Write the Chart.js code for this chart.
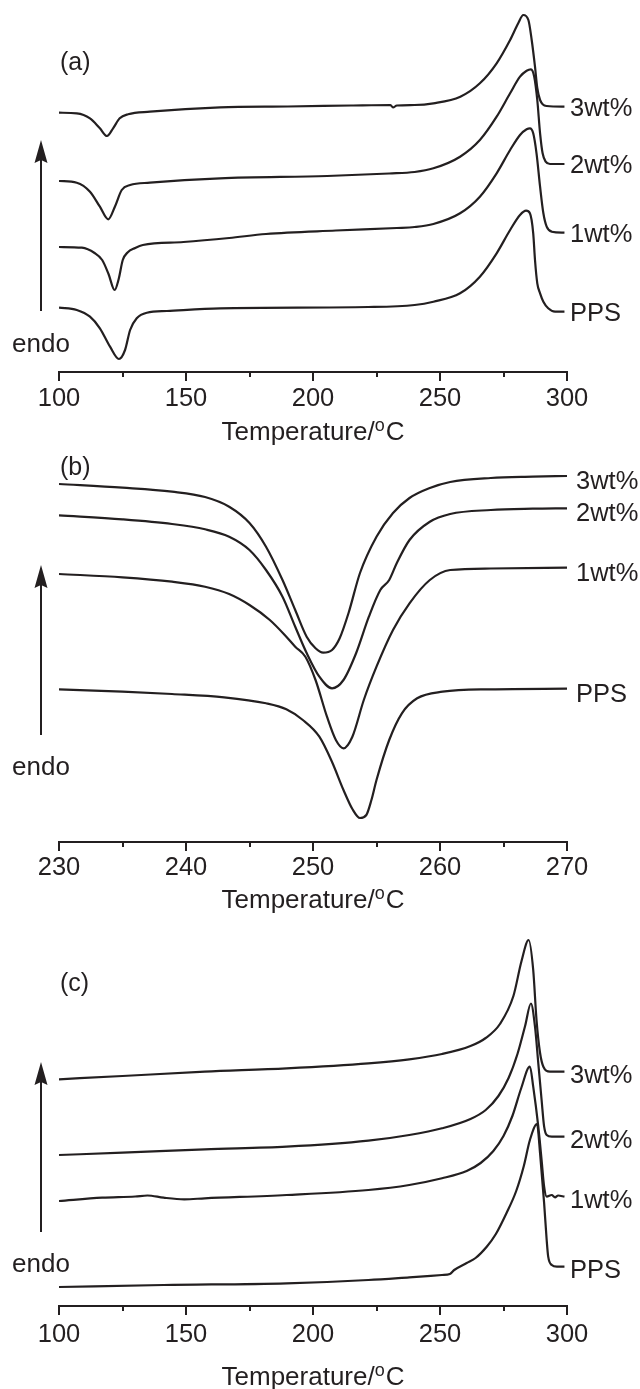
<!DOCTYPE html>
<html>
<head>
<meta charset="utf-8">
<script src="https://cdn.jsdelivr.net/npm/chart.js@4/dist/chart.umd.min.js"></script>
<style>
  html, body { margin: 0; padding: 0; background: #fff; }
  body { width: 640px; height: 1389px; position: relative; overflow: hidden; }
  canvas { position: absolute; left: 0; }
</style>
</head>
<body>
<canvas id="chartA" width="640" height="450" style="top:0"></canvas>
<canvas id="chartB" width="640" height="465" style="top:450px"></canvas>
<canvas id="chartC" width="640" height="474" style="top:915px"></canvas>
<script>
// DSC traces, [temperature in °C, heat flow in a.u. (endo up)]
const seriesLabels = ['3wt%', '2wt%', '1wt%', 'PPS'];

// (a) heating scan
const a3wt = [[100,259.3],[107,258.7],[112.2,253.7],[116.1,243.7],[118.9,236],[121.3,243.7],[123.9,253.7],[127.2,257.7],[135.8,260.3],[163.4,264.7],[190,265.5],[215,266.5],[230.5,267],[231.5,264.5],[233,266.5],[240,267],[247.4,268.7],[258,275.3],[265.7,288.7],[272.3,308.7],[277.6,332],[280.8,348.7],[282.8,357],[284.8,352],[286.1,332],[287.4,305.3],[288.3,284],[289.4,272],[292,266],[299,265.3]];
const a2wt = [[100,191],[107,189.3],[112.2,180.3],[116.1,165.3],[119.4,152.7],[122,165.3],[124.7,182],[128,187],[135.8,189.3],[163.4,193.7],[205.6,196],[230,198.5],[240,200],[247.4,203.7],[257.9,215.3],[265.7,232],[272.3,255.3],[277.6,278.7],[281.5,295.3],[284.1,301.3],[285.8,302.7],[287.1,295.3],[288.3,272],[289.4,238.7],[290.4,218.7],[291.6,210.3],[293.3,208],[299,208]];
const a1wt = [[100,125],[109,124.3],[114,119],[117,112],[119.5,98],[121.9,82],[123.5,93],[125.1,112],[127,119.5],[130,124],[133,127],[149,130],[167,134],[181.5,138],[209,141.5],[233,144],[240,145],[247.4,148],[257.9,158.7],[265.7,175.3],[272.3,198.7],[277.6,222],[281.5,237],[284.1,242.7],[285.4,243.7],[286.7,238.7],[288,218.7],[289.4,185.3],[290.7,158.7],[292,145.3],[294,140.3],[299,139.3]];
const aPPS = [[100,64.3],[107,62],[112.2,55.3],[116.1,43.7],[120.1,25.3],[123.6,13],[126,22],[128,42],[130.6,53.7],[134.6,59.3],[142.5,61],[163.4,63.7],[221.8,65],[240,67],[247.4,70.3],[257.9,78.7],[265.7,95.3],[272.3,118.7],[277.6,142],[281.5,157],[283.9,161.3],[285.4,158.7],[286.7,138.7],[287.4,112],[288.3,88.7],[289.4,78.7],[290.7,70.3],[292.6,63.7],[295.3,60.3],[299,60.3]];

// (b) cooling scan
const b3wt = [[230,358],[235,354.3],[238.9,350.3],[241.5,345],[243.4,335.3],[245,319],[246.3,295.3],[247.6,262],[248.6,232],[249.5,205.3],[250.2,193.7],[250.8,189.3],[251.5,192],[252.1,203.7],[252.8,229],[253.7,269],[255,305.3],[256.3,329],[257.6,344],[259.2,354],[260.8,360],[264,364],[267.3,365.3],[270,366]];
const b2wt = [[230,326.7],[235,322.7],[238.9,318],[241.5,312.7],[243.4,305.3],[245,292],[246.3,272],[247.6,245.3],[248.6,215.3],[249.5,189],[250.5,165.3],[251.5,153.7],[252.4,162],[253.4,189],[254.4,225.3],[255.3,252],[256,262],[256.6,279],[257.6,302],[259.2,320.3],[260.8,328],[264,332],[267.3,333.3],[270,333.7]];
const b1wt = [[230,268],[235,264.7],[238.9,260.3],[241.5,255.3],[243.4,248],[245,237],[246.6,222],[247.9,205.3],[248.6,195.3],[249.4,185.3],[250.2,162],[251.1,125.3],[251.8,102],[252.4,93.7],[253.1,105.3],[254,142],[255,175.3],[256.3,212],[257.6,238.7],[259.2,262],[260.8,272],[264,273.5],[270,274.3]];
const bPPS = [[230,152.7],[235,150.3],[238.9,148],[243,144.7],[246.3,138.7],[247.9,132.7],[249.2,122],[250.5,105.3],[251.5,80],[252.4,52],[253.1,33],[253.7,24],[254.2,27],[254.6,42],[255,62],[256,102],[257,128.7],[258.2,143.7],[260.2,150.3],[264,152.7],[270,153.3]];

// (c) second heating scan
const c3wt = [[100,226.7],[125,230],[157.4,234.3],[189.6,237.7],[221.8,242.7],[237.9,246.7],[250.8,252],[262,260],[268,268],[273.6,282],[278.9,310],[282.1,345],[284.9,366],[286.7,336],[288,286],[289.4,253],[290.7,239.3],[293.3,234.3],[299,234.3]];
const c2wt = [[100,151],[125,153.3],[157.4,156.7],[189.6,159.3],[221.8,165.3],[237.9,171],[250.8,177.7],[262,187],[268,196],[273,210],[277,228],[280.5,252],[283.5,280],[285.8,302.5],[287.4,279.3],[288.7,242.7],[290,206],[291,179.3],[292,171],[294,169.3],[299,169.3]];
const c1wt = [[100,105],[117,108.3],[130,109.5],[134.8,110.5],[141.2,108.3],[149.3,106.7],[157.4,107.7],[189.6,111],[221.8,116],[237.9,121],[250.8,127.7],[260.5,135],[266,143],[271,155],[275,170],[278.5,190],[282,218],[285.4,239.5],[286.7,219.3],[288.7,179.3],[290,146],[291,119.3],[292,109.3],[294,111],[295.3,108.7],[296.5,110.5],[299,109.3]];
const cPPS = [[100,19],[141.2,21],[189.6,22.7],[221.8,26],[237.9,28.7],[250.8,31],[253.9,32],[255.6,36],[260.5,43],[264,48],[268.4,59.3],[272,72],[276.2,93],[280,115],[283,140],[285.4,166],[288.2,182],[289.4,152.7],[291,102.7],[292,66],[292.6,49.3],[294,41],[296,39.3],[299,39.3]];

// axis ticks
const wideTicks = [100, 150, 200, 250, 300];
const wideMinor = [125, 175, 225, 275];
const narrowTicks = [230, 240, 250, 260, 270];
const narrowMinor = [235, 245, 255, 265];

const ink = '#231f20';
const FONT = '"Liberation Sans", Arial, Helvetica, sans-serif';
Chart.defaults.font.family = FONT;
Chart.defaults.color = ink;

// draws what Chart.js has no option for: minor ticks, axis title, panel tag, endo arrow, curve labels
const deco = {
  id: 'deco',
  afterDraw(chart, args, o) {
    const ctx = chart.ctx, xs = chart.scales.x, ys = chart.scales.y, area = chart.chartArea;
    ctx.save();
    ctx.strokeStyle = ink;
    ctx.fillStyle = ink;
    ctx.lineWidth = 2;
    o.minor.forEach(v => {
      const px = Math.round(xs.getPixelForValue(v));
      ctx.beginPath();
      ctx.moveTo(px, area.bottom);
      ctx.lineTo(px, area.bottom + 5);
      ctx.stroke();
    });

    // Temperature/°C with a raised small o
    ctx.textBaseline = 'alphabetic';
    ctx.textAlign = 'left';
    const big = `26px ${FONT}`, small = `18px ${FONT}`;
    ctx.font = big;
    const w1 = ctx.measureText('Temperature/').width, w3 = ctx.measureText('C').width;
    ctx.font = small;
    const w2 = ctx.measureText('o').width + 1;
    let tx = (area.left + area.right) / 2 - (w1 + w2 + w3) / 2;
    ctx.font = big;
    ctx.fillText('Temperature/', tx, o.titleBase);
    ctx.font = small;
    ctx.fillText('o', tx + w1, o.titleBase - 9);
    ctx.font = big;
    ctx.fillText('C', tx + w1 + w2, o.titleBase);

    ctx.font = `25px ${FONT}`;
    ctx.fillText(o.tag, 60, o.tagBase);

    // endo arrow
    const ax = 41;
    ctx.beginPath();
    ctx.moveTo(ax, o.arrowBottom);
    ctx.lineTo(ax, o.arrowTip + 18);
    ctx.stroke();
    ctx.beginPath();
    ctx.moveTo(ax, o.arrowTip);
    ctx.lineTo(ax + 6.5, o.arrowTip + 23);
    ctx.lineTo(ax, o.arrowTip + 20);
    ctx.lineTo(ax - 6.5, o.arrowTip + 23);
    ctx.closePath();
    ctx.fill();
    ctx.font = `26px ${FONT}`;
    ctx.textAlign = 'center';
    ctx.fillText('endo', ax, o.endoBase);

    ctx.font = `25.5px ${FONT}`;
    ctx.textAlign = 'left';
    chart.data.datasets.forEach(ds => {
      const last = ds.data[ds.data.length - 1];
      ctx.fillText(ds.label, o.labelX, ys.getPixelForValue(last.y) + o.labelDy);
    });
    ctx.restore();
  }
};

function makePanel(id, traces, ticks, axisY, canvasH, tickPad, decoOpts) {
  const datasets = traces.map((t, i) => ({
    label: seriesLabels[i],
    data: t.map(p => ({ x: p[0], y: p[1] })),
    borderColor: ink,
    borderWidth: 2.2,
    pointRadius: 0,
    cubicInterpolationMode: 'monotone',
    fill: false
  }));
  return new Chart(document.getElementById(id), {
    type: 'line',
    data: { datasets },
    plugins: [deco],
    options: {
      responsive: false,
      animation: false,
      devicePixelRatio: 1,
      layout: { padding: { left: 59, right: 73, top: 0, bottom: 0 } },
      plugins: { legend: { display: false }, tooltip: { enabled: false }, deco: decoOpts },
      scales: {
        x: {
          type: 'linear',
          min: ticks[0],
          max: ticks[ticks.length - 1],
          afterBuildTicks: s => { s.ticks = ticks.map(v => ({ value: v })); },
          afterFit: s => { s.height = canvasH - axisY; s.paddingLeft = 0; s.paddingRight = 0; },
          border: { display: true, color: ink, width: 2 },
          grid: { display: true, drawOnChartArea: false, drawTicks: true, tickLength: 9, color: ink, lineWidth: 2 },
          ticks: { color: ink, font: { size: 25.5 }, padding: tickPad, maxRotation: 0, autoSkip: false }
        },
        y: { display: false, min: 0, max: axisY }
      }
    }
  });
}

makePanel('chartA', [a3wt, a2wt, a1wt, aPPS], wideTicks, 372, 450, 3,
  { minor: wideMinor, titleBase: 440, tag: '(a)', tagBase: 70, arrowTip: 140, arrowBottom: 311, endoBase: 352, labelX: 570, labelDy: 9 });
makePanel('chartB', [b3wt, b2wt, b1wt, bPPS], narrowTicks, 392, 465, 2,
  { minor: narrowMinor, titleBase: 458, tag: '(b)', tagBase: 25, arrowTip: 115, arrowBottom: 285, endoBase: 325, labelX: 576, labelDy: 13 });
makePanel('chartC', [c3wt, c2wt, c1wt, cPPS], wideTicks, 391, 474, 5,
  { minor: wideMinor, titleBase: 470, tag: '(c)', tagBase: 76, arrowTip: 147, arrowBottom: 317, endoBase: 357, labelX: 570, labelDy: 11 });
</script>
</body>
</html>
